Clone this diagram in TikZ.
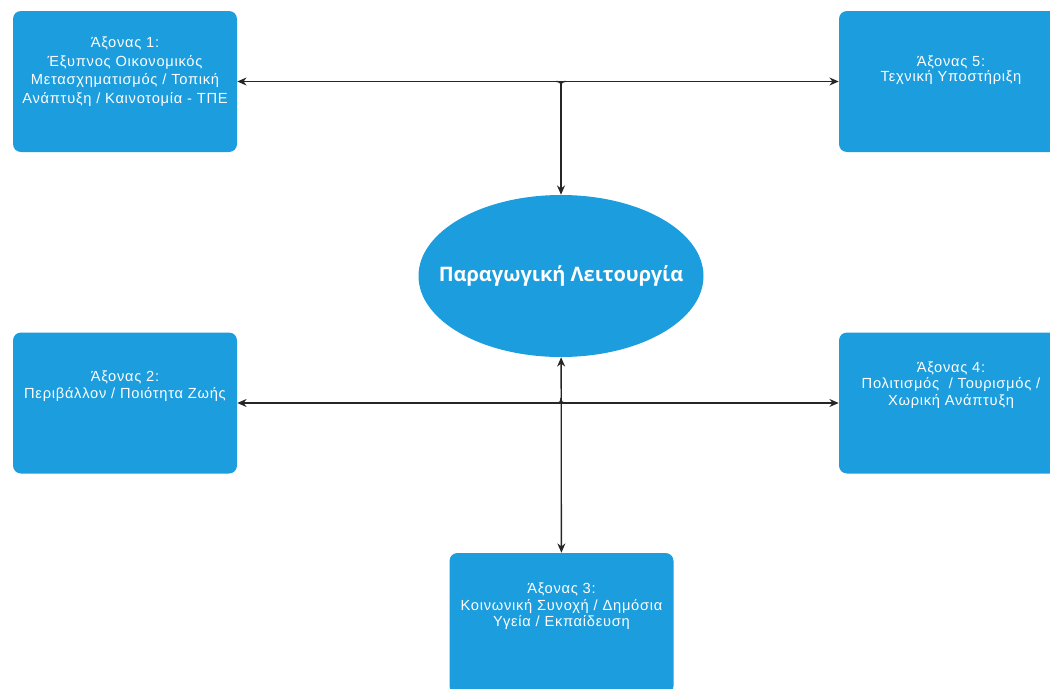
\documentclass[tikz,border=0pt]{standalone}
\usepackage{fontspec}
\setmainfont{Liberation Sans}[LetterSpace=5]
\newfontfamily\corefont{Open Sans}
\usetikzlibrary{shapes.geometric,positioning,arrows.meta}
\definecolor{axisblue}{RGB}{27,157,222}
\tikzset{
  axisbox/.style={rectangle, rounded corners=6pt, fill=axisblue,
    minimum width=168pt, minimum height=105.75pt, inner sep=0pt},
  axistext/.style={align=center, text=white, inner sep=0pt,
    font=\fontsize{11}{13.25}\selectfont},
  link/.style={draw=black!85, line width=1pt}
}
\begin{document}
\begin{tikzpicture}[x=0.75pt, y=-0.75pt, line join=round, line cap=round, >={Stealth[length=7pt,width=6pt]}]
            \useasboundingbox (0,0) rectangle (1050,689);
            \clip (0,0) rectangle (1050,689);
            % centre
            \node[ellipse, fill=axisblue, minimum width=213.75pt, minimum height=121.5pt, inner sep=0pt] (core) at (561,276) {};
            \node[text=white, inner sep=0pt, font=\corefont\bfseries\fontsize{15}{17}\selectfont] (coretxt) at (core.center) {Παραγωγική Λειτουργία};
            % axes
            \node[axisbox] (ax1) at (125,81.5) {};
            \node[axisbox] (ax5) at (951,81.5) {};
            \node[axisbox] (ax2) at (125,403) {};
            \node[axisbox] (ax4) at (951,403) {};
            \node[axisbox] (ax3) at (561.5,623.5) {};
            \node[axistext, font=\fontsize{11}{14}\selectfont, below=19.5pt of ax1.north] (ax1txt) {Άξονας 1:\\Έξυπνος Οικονομικός\\Μετασχηματισμός / Τοπική\\Ανάπτυξη / Καινοτομία - ΤΠΕ};
            \node[axistext, font=\fontsize{11}{11}\selectfont, below=33.75pt of ax5.north] (ax5txt) {Άξονας 5:\\Τεχνική Υποστήριξη};
            \node[axistext, below=28.5pt of ax2.north] (ax2txt) {Άξονας 2:\\Περιβάλλον / Ποιότητα Ζωής};
            \node[axistext, font=\fontsize{11}{12.5}\selectfont, below=21.75pt of ax4.north] (ax4txt) {Άξονας 4:\\Πολιτισμός \ / Τουρισμός /\\Χωρική Ανάπτυξη};
            \node[axistext, font=\fontsize{11}{12.5}\selectfont, below=22.5pt of ax3.north] (ax3txt) {Άξονας 3:\\Κοινωνική Συνοχή / Δημόσια\\Υγεία / Εκπαίδευση};
            % links
            \coordinate (topj) at (core.north |- ax1.east);
            \coordinate (botj) at (core.south |- ax2.east);
            \draw[link, <->] (ax1) -- (ax5);
            \draw[link, ->] (topj) -- (core);
            \draw[link, <->] (ax2) -- (ax4);
            \draw[link, <->] (core) -- (ax3);
            \foreach \s in {-1,1} {
              \draw[link, rounded corners=2.5pt] ([xshift=\s*3.5pt]topj) -- (topj) -- ([yshift=-3.5pt]topj);
              \draw[link, rounded corners=2.5pt] ([xshift=\s*3.5pt]botj) -- (botj) -- ([yshift=3.5pt]botj);
            }
        \end{tikzpicture}
\end{document}
